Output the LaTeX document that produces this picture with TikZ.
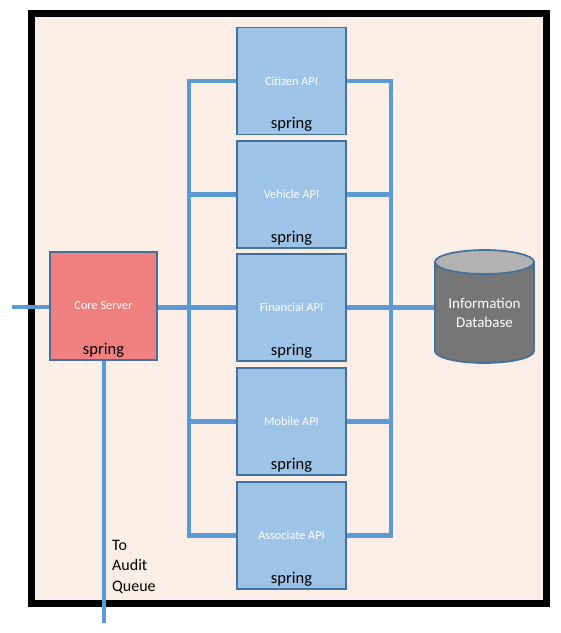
\documentclass[tikz,border=0pt]{standalone}
\usepackage{fontspec}
\setmainfont{Carlito}
\begin{document}
\begin{tikzpicture}[x=1pt,y=-1pt,
  bus/.style={draw=busblue, line width=4.6pt},
  apibox/.style={draw=edgeblue, line width=1.7pt, fill=apifill, minimum width=109pt, minimum height=107pt, inner sep=0pt, text=white, font=\fontsize{12.3}{14}\selectfont},
  corebox/.style={draw=edgeblue, line width=1.7pt, fill=corefill, minimum width=107pt, minimum height=108pt, inner sep=0pt, text=white, font=\fontsize{12.3}{14}\selectfont},
  springtxt/.style={text=black, font=\fontsize{16.5}{18}\selectfont, inner sep=0pt},
]
\definecolor{busblue}{HTML}{5B9BD5}
\definecolor{edgeblue}{HTML}{41719C}
\definecolor{apifill}{HTML}{9DC3E6}
\definecolor{corefill}{HTML}{F08080}
\definecolor{bgfill}{HTML}{FBEEE6}
\definecolor{dbbody}{HTML}{767676}
\definecolor{dbtop}{HTML}{B2B2B2}
\useasboundingbox (0,0) rectangle (561,633);
% frame
\draw[line width=7pt, fill=bgfill] (31.5,13.5) rectangle (546.5,603.5);
% nodes
\node[corebox] (core) at (103.5,306) {Core Server};
\node[apibox] (citizen) at (291.5,81) {Citizen API};
\node[apibox] (vehicle) at (291.5,194.5) {Vehicle API};
\node[apibox] (financial) at (291.5,307.5) {Financial API};
\node[apibox] (mobile) at (291.5,421.5) {Mobile API};
\node[apibox] (associate) at (291.5,535.5) {Associate API};
\node[minimum width=99pt, minimum height=113pt, inner sep=0pt] (db) at (484.5,307) {};
\coordinate (in) at (12,307);
\coordinate (audit) at (104,623);
\coordinate (lbus) at (189,0);
\coordinate (rbus) at (391,0);
% connectors
\draw[bus] (in) -- (core.west |- in);
\draw[bus] (core.south -| audit) -- (audit);
\draw[bus] (citizen.west) -| (lbus |- associate.west) -- (associate.west);
\draw[bus] (vehicle.west) -- (vehicle.west -| lbus);
\draw[bus] (mobile.west) -- (mobile.west -| lbus);
\draw[bus] (core.east |- financial.west) -- (financial.west);
\draw[bus] (citizen.east) -| (rbus |- associate.east) -- (associate.east);
\draw[bus] (vehicle.east) -- (vehicle.east -| rbus);
\draw[bus] (mobile.east) -- (mobile.east -| rbus);
\draw[bus] (financial.east) -- (db.west |- financial.east);
% redraw boxes on top
\node[corebox] at (core) {Core Server};
\node[apibox] at (citizen) {Citizen API};
\node[apibox] at (vehicle) {Vehicle API};
\node[apibox] at (financial) {Financial API};
\node[apibox] at (mobile) {Mobile API};
\node[apibox] at (associate) {Associate API};
\foreach \n in {core,citizen,vehicle,financial,mobile,associate}
  \node[springtxt] at ([yshift=11pt]\n.south) {spring};
% database
\filldraw[draw=edgeblue, line width=1.7pt, fill=dbbody] (435,262) -- (435,351)
  arc[start angle=180, end angle=360, x radius=49.5pt, y radius=12pt] -- (534,262) -- cycle;
\filldraw[draw=edgeblue, line width=1.7pt, fill=dbtop] (484.5,262) ellipse [x radius=49.5pt, y radius=12pt];
\node[text=white, align=center, font=\fontsize{15}{19}\selectfont] at (484.5,313) {Information\\Database};
% audit label
\node[anchor=north west, align=left, inner sep=0pt, font=\fontsize{16}{20.5}\selectfont] at (112,540) {To\\Audit\\Queue};
\end{tikzpicture}
\end{document}
